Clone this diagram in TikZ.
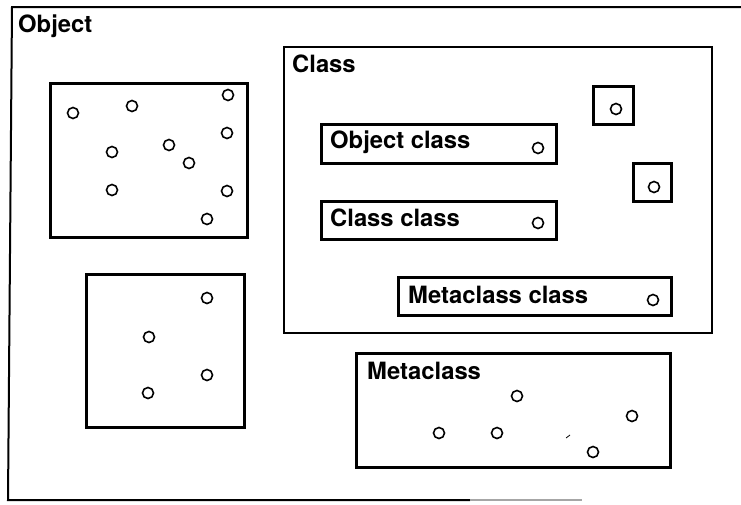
\documentclass[tikz,border=0pt]{standalone}
\usepackage{fontspec}
\setmainfont{TeX Gyre Heros}
\begin{document}
\begin{tikzpicture}[x=1pt,y=-1pt,
  frame/.style={draw, line width=3pt, inner sep=0pt, outer sep=0pt, anchor=north west},
  dot/.style={draw, circle, line width=1.6pt, minimum size=11pt, inner sep=0pt},
  lbl/.style={anchor=base west, inner sep=0pt, font=\fontsize{23.8}{28}\selectfont\bfseries}]
\useasboundingbox[fill=white] (0,0) rectangle (741,504);

% outer frame (Object)
\draw[line width=2pt] (741,7) -- (12,7) -- (8,500) -- (470,500);
\draw[line width=2pt, black!35] (470,500) -- (582,500);
\node[lbl] (tObject) at (18,32) {Object};

% object boxes
\node[frame, minimum width=197, minimum height=154] (objA) at (50,83) {};
\node[frame, minimum width=158, minimum height=153] (objB) at (86,274) {};

% Class box
\node[frame, line width=2.6pt, minimum width=428, minimum height=286] (classBox) at (284,47) {};
\node[lbl] (tClass) at (292,72) {Class};
\node[frame, minimum width=40, minimum height=38] (smallA) at (593,86) {};
\node[frame, minimum width=38, minimum height=38] (smallB) at (633,163) {};
\node[frame, minimum width=235, minimum height=39] (objClass) at (321,124) {};
\node[lbl] (tObjClass) at (330,148) {Object class};
\node[frame, minimum width=235, minimum height=38] (classClass) at (321,201) {};
\node[lbl] (tClassClass) at (330,226) {Class class};
\node[frame, minimum width=273, minimum height=38] (metaClassClass) at (398,277) {};
\node[lbl] (tMetaClassClass) at (408,303) {Metaclass class};

% Metaclass box
\node[frame, minimum width=314, minimum height=114] (metaBox) at (356,353) {};
\node[lbl] (tMeta) at (367,379) {Metaclass};

% dots
\foreach \p [count=\i] in {(73,113),(132,106),(228,95),(227,133),(112,152),(169,145),(189,163),(112,190),(227,191),(207,219)}
  \node[dot] (a\i) at \p {};
\foreach \p [count=\i] in {(207,298),(149,337),(207,375),(148,393)}
  \node[dot] (b\i) at \p {};
\node[dot] (sa) at (616,109) {};
\node[dot] (sb) at (654,187) {};
\node[dot] (oc) at (538,148) {};
\node[dot] (cc) at (538,223) {};
\node[dot] (mcc) at (653,300) {};
\foreach \p [count=\i] in {(517,396),(439,433),(497,433),(593,452),(632,416)}
  \node[dot] (m\i) at \p {};

% small stray mark
\draw[line width=0.8pt] (566,438) -- (570,435);
\end{tikzpicture}
\end{document}
